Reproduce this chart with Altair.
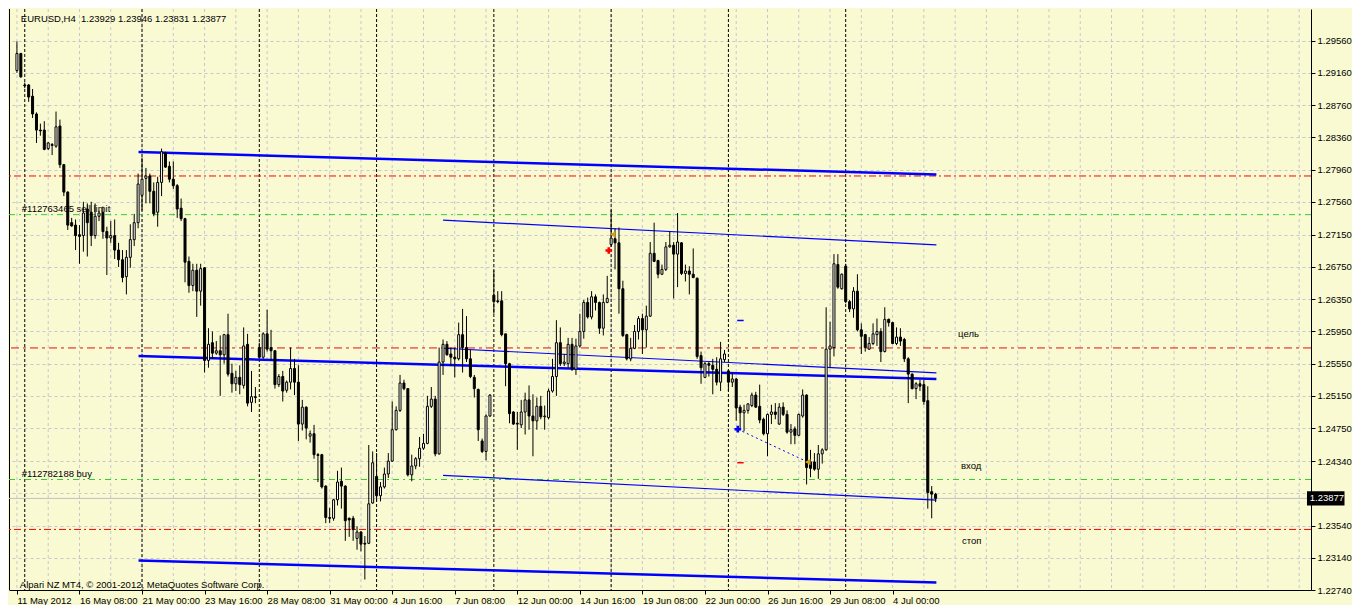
import altair as alt
import pandas as pd

# ---------------- data (EURUSD H4, bar index 0 = first visible bar) ----------------
OPEN = [
    1.2919, 1.2940, 1.2901, 1.2901, 1.2887, 1.2865, 1.2845, 1.2845, 1.2822, 1.2827,
    1.2825, 1.2850, 1.2802, 1.2768, 1.2730, 1.2727, 1.2715, 1.2714, 1.2747, 1.2743,
    1.2714, 1.2738, 1.2743, 1.2719, 1.2711, 1.2714, 1.2696, 1.2684, 1.2663, 1.2687,
    1.2709, 1.2730, 1.2764, 1.2785, 1.2788, 1.2769, 1.2743, 1.2780, 1.2817, 1.2800,
    1.2784, 1.2776, 1.2748, 1.2735, 1.2682, 1.2652, 1.2671, 1.2645, 1.2674, 1.2559,
    1.2581, 1.2568, 1.2571, 1.2566, 1.2591, 1.2543, 1.2530, 1.2538, 1.2528, 1.2579,
    1.2507, 1.2514, 1.2575, 1.2563, 1.2592, 1.2575, 1.2571, 1.2529, 1.2539, 1.2522,
    1.2532, 1.2549, 1.2532, 1.2480, 1.2501, 1.2465, 1.2468, 1.2442, 1.2442, 1.2403,
    1.2364, 1.2363, 1.2386, 1.2409, 1.2403, 1.2363, 1.2363, 1.2338, 1.2346, 1.2332,
    1.2332, 1.2382, 1.2415, 1.2391, 1.2402, 1.2418, 1.2434, 1.2473, 1.2497, 1.2531,
    1.2524, 1.2417, 1.2428, 1.2437, 1.2450, 1.2456, 1.2502, 1.2511, 1.2443, 1.2557,
    1.2579, 1.2567, 1.2563, 1.2561, 1.2591, 1.2575, 1.2561, 1.2538, 1.2523, 1.2459,
    1.2446, 1.2490, 1.2640, 1.2633, 1.2633, 1.2592, 1.2555, 1.2495, 1.2481, 1.2479,
    1.2495, 1.2510, 1.2490, 1.2484, 1.2502, 1.2489, 1.2488, 1.2521, 1.2539, 1.2581,
    1.2555, 1.2555, 1.2579, 1.2548, 1.2577, 1.2595, 1.2631, 1.2613, 1.2638, 1.2631,
    1.2599, 1.2631, 1.2703, 1.2710, 1.2705, 1.2648, 1.2591, 1.2561, 1.2574, 1.2595,
    1.2611, 1.2597, 1.2614, 1.2692, 1.2683, 1.2666, 1.2672, 1.2700, 1.2702, 1.2691,
    1.2705, 1.2667, 1.2670, 1.2666, 1.2661, 1.2565, 1.2538, 1.2555, 1.2553, 1.2548,
    1.2532, 1.2560, 1.2546, 1.2532, 1.2536, 1.2501, 1.2494, 1.2497, 1.2503, 1.2516,
    1.2502, 1.2486, 1.2468, 1.2492, 1.2495, 1.2480, 1.2501, 1.2492, 1.2470, 1.2474,
    1.2466, 1.2490, 1.2516, 1.2433, 1.2433, 1.2424, 1.2443, 1.2448, 1.2573, 1.2575,
    1.2678, 1.2648, 1.2676, 1.2632, 1.2623, 1.2645, 1.2597, 1.2591, 1.2573, 1.2580,
    1.2591, 1.2595, 1.2570, 1.2610, 1.2606, 1.2580, 1.2588, 1.2585, 1.2561, 1.2542,
    1.2524, 1.2530, 1.2529, 1.2509, 1.2396, 1.23929,
]
HIGH = [
    1.2955, 1.2941, 1.2904, 1.2902, 1.2896, 1.2867, 1.2853, 1.2856, 1.2830, 1.2829,
    1.2868, 1.2858, 1.2803, 1.2769, 1.2736, 1.2734, 1.2727, 1.2756, 1.2754, 1.2756,
    1.2754, 1.2745, 1.2750, 1.2725, 1.2732, 1.2734, 1.2705, 1.2696, 1.2696, 1.2728,
    1.2741, 1.2791, 1.2811, 1.2798, 1.2791, 1.2780, 1.2787, 1.2822, 1.2818, 1.2806,
    1.2806, 1.2778, 1.2760, 1.2736, 1.2688, 1.2679, 1.2679, 1.2679, 1.2675, 1.2599,
    1.2595, 1.2583, 1.2590, 1.2592, 1.2617, 1.2555, 1.2546, 1.2553, 1.2600, 1.2592,
    1.2546, 1.2526, 1.2581, 1.2594, 1.2622, 1.2597, 1.2572, 1.2542, 1.2546, 1.2534,
    1.2575, 1.2561, 1.2553, 1.2510, 1.2502, 1.2472, 1.2479, 1.2444, 1.2443, 1.2404,
    1.2376, 1.2387, 1.2422, 1.2426, 1.2404, 1.2364, 1.2366, 1.2353, 1.2347, 1.2341,
    1.2454, 1.2446, 1.2444, 1.2408, 1.2426, 1.2444, 1.2508, 1.2502, 1.2541, 1.2535,
    1.2524, 1.2442, 1.2439, 1.2464, 1.2468, 1.2515, 1.2526, 1.2515, 1.2575, 1.2585,
    1.2583, 1.2575, 1.2575, 1.2606, 1.2623, 1.2614, 1.2572, 1.2541, 1.2524, 1.2462,
    1.2492, 1.2517, 1.2671, 1.2645, 1.2645, 1.2592, 1.2556, 1.2496, 1.2495, 1.2510,
    1.2519, 1.2528, 1.2517, 1.2513, 1.2515, 1.2503, 1.2524, 1.2561, 1.2609, 1.2600,
    1.2567, 1.2587, 1.2587, 1.2586, 1.2617, 1.2634, 1.2637, 1.2645, 1.2641, 1.2632,
    1.2641, 1.2664, 1.2746, 1.2723, 1.2724, 1.2658, 1.2592, 1.2587, 1.2603, 1.2614,
    1.2617, 1.2627, 1.2706, 1.2730, 1.2684, 1.2678, 1.2706, 1.2719, 1.2706, 1.2742,
    1.2706, 1.2678, 1.2676, 1.2698, 1.2662, 1.2570, 1.2557, 1.2557, 1.2561, 1.2563,
    1.2582, 1.2572, 1.2548, 1.2544, 1.2537, 1.2504, 1.2504, 1.2506, 1.2519, 1.2520,
    1.2529, 1.2488, 1.2493, 1.2504, 1.2506, 1.2506, 1.2507, 1.2497, 1.2480, 1.2477,
    1.2493, 1.2523, 1.2517, 1.2448, 1.2444, 1.2454, 1.2450, 1.2625, 1.2607, 1.2691,
    1.2691, 1.2667, 1.2679, 1.2634, 1.2650, 1.2666, 1.2605, 1.2592, 1.2588, 1.2605,
    1.2611, 1.2599, 1.2625, 1.2611, 1.2607, 1.2600, 1.2599, 1.2587, 1.2563, 1.2543,
    1.2532, 1.2535, 1.2535, 1.2527, 1.2403, 1.23946,
]
LOW = [
    1.2916, 1.2910, 1.2897, 1.2880, 1.2860, 1.2829, 1.2838, 1.2820, 1.2820, 1.2814,
    1.2823, 1.2798, 1.2763, 1.2721, 1.2725, 1.2696, 1.2679, 1.2694, 1.2688, 1.2701,
    1.2710, 1.2732, 1.2710, 1.2665, 1.2705, 1.2685, 1.2675, 1.2656, 1.2641, 1.2674,
    1.2701, 1.2723, 1.2745, 1.2754, 1.2754, 1.2738, 1.2725, 1.2763, 1.2798, 1.2780,
    1.2772, 1.2736, 1.2732, 1.2656, 1.2643, 1.2645, 1.2613, 1.2627, 1.2544, 1.2550,
    1.2561, 1.2566, 1.2515, 1.2555, 1.2539, 1.2519, 1.2521, 1.2517, 1.2524, 1.2502,
    1.2495, 1.2506, 1.2561, 1.2561, 1.2570, 1.2559, 1.2524, 1.2526, 1.2508, 1.2519,
    1.2523, 1.2516, 1.2459, 1.2472, 1.2461, 1.2457, 1.2437, 1.2408, 1.2400, 1.2357,
    1.2357, 1.2360, 1.2379, 1.2375, 1.2335, 1.2340, 1.2335, 1.2324, 1.2322, 1.2287,
    1.2331, 1.2381, 1.2384, 1.2384, 1.2400, 1.2413, 1.2433, 1.2472, 1.2495, 1.2522,
    1.2415, 1.2409, 1.2424, 1.2427, 1.2448, 1.2455, 1.2500, 1.2440, 1.2442, 1.2541,
    1.2565, 1.2552, 1.2538, 1.2559, 1.2544, 1.2557, 1.2537, 1.2513, 1.2459, 1.2444,
    1.2435, 1.2489, 1.2617, 1.2630, 1.2589, 1.2527, 1.2481, 1.2479, 1.2448, 1.2475,
    1.2467, 1.2473, 1.2440, 1.2473, 1.2486, 1.2473, 1.2486, 1.2519, 1.2515, 1.2552,
    1.2552, 1.2550, 1.2546, 1.2541, 1.2575, 1.2586, 1.2611, 1.2610, 1.2621, 1.2592,
    1.2590, 1.2630, 1.2700, 1.2672, 1.2617, 1.2588, 1.2559, 1.2558, 1.2573, 1.2585,
    1.2567, 1.2575, 1.2613, 1.2681, 1.2661, 1.2665, 1.2670, 1.2699, 1.2636, 1.2650,
    1.2665, 1.2657, 1.2641, 1.2661, 1.2561, 1.2530, 1.2537, 1.2539, 1.2517, 1.2528,
    1.2521, 1.2557, 1.2521, 1.2526, 1.2484, 1.2475, 1.2471, 1.2493, 1.2501, 1.2500,
    1.2481, 1.2466, 1.2440, 1.2480, 1.2486, 1.2479, 1.2490, 1.2468, 1.2455, 1.2455,
    1.2465, 1.2488, 1.2405, 1.2414, 1.2422, 1.2412, 1.2431, 1.2447, 1.2550, 1.2564,
    1.2648, 1.2647, 1.2630, 1.2619, 1.2612, 1.2595, 1.2567, 1.2570, 1.2572, 1.2578,
    1.2577, 1.2557, 1.2569, 1.2601, 1.2579, 1.2578, 1.2577, 1.2557, 1.2506, 1.2523,
    1.2511, 1.2521, 1.2504, 1.2375, 1.2363, 1.23831,
]
CLOSE = [
    1.2940, 1.2911, 1.2900, 1.2886, 1.2865, 1.2845, 1.2844, 1.2821, 1.2829, 1.2826,
    1.2849, 1.2802, 1.2768, 1.2727, 1.2726, 1.2714, 1.2713, 1.2742, 1.2730, 1.2714,
    1.2738, 1.2742, 1.2719, 1.2711, 1.2714, 1.2696, 1.2684, 1.2662, 1.2687, 1.2709,
    1.2730, 1.2778, 1.2784, 1.2788, 1.2769, 1.2741, 1.2780, 1.2818, 1.2799, 1.2784,
    1.2776, 1.2747, 1.2735, 1.2681, 1.2652, 1.2671, 1.2645, 1.2673, 1.2559, 1.2579,
    1.2568, 1.2571, 1.2566, 1.2591, 1.2542, 1.2530, 1.2538, 1.2529, 1.2577, 1.2506,
    1.2514, 1.2513, 1.2563, 1.2592, 1.2573, 1.2571, 1.2529, 1.2539, 1.2521, 1.2532,
    1.2549, 1.2532, 1.2480, 1.2501, 1.2475, 1.2468, 1.2442, 1.2441, 1.2402, 1.2364,
    1.2363, 1.2386, 1.2408, 1.2403, 1.2360, 1.2361, 1.2349, 1.2346, 1.2331, 1.2331,
    1.2381, 1.2432, 1.2391, 1.2402, 1.2418, 1.2434, 1.2473, 1.2497, 1.2531, 1.2524,
    1.2417, 1.2428, 1.2437, 1.2450, 1.2456, 1.2502, 1.2511, 1.2443, 1.2557, 1.2579,
    1.2566, 1.2563, 1.2561, 1.2591, 1.2575, 1.2561, 1.2539, 1.2524, 1.2473, 1.2446,
    1.2490, 1.2516, 1.2632, 1.2632, 1.2591, 1.2555, 1.2493, 1.2480, 1.2480, 1.2495,
    1.2510, 1.2490, 1.2484, 1.2502, 1.2489, 1.2490, 1.2521, 1.2539, 1.2581, 1.2555,
    1.2557, 1.2579, 1.2548, 1.2577, 1.2595, 1.2631, 1.2613, 1.2638, 1.2631, 1.2599,
    1.2631, 1.2636, 1.2711, 1.2705, 1.2648, 1.2590, 1.2561, 1.2574, 1.2595, 1.2611,
    1.2597, 1.2614, 1.2692, 1.2682, 1.2666, 1.2672, 1.2700, 1.2702, 1.2691, 1.2706,
    1.2667, 1.2670, 1.2666, 1.2662, 1.2564, 1.2550, 1.2555, 1.2553, 1.2548, 1.2532,
    1.2561, 1.2567, 1.2532, 1.2536, 1.2500, 1.2494, 1.2497, 1.2505, 1.2516, 1.2501,
    1.2485, 1.2468, 1.2492, 1.2495, 1.2492, 1.2501, 1.2492, 1.2470, 1.2473, 1.2466,
    1.2492, 1.2516, 1.2426, 1.2425, 1.2424, 1.2443, 1.2448, 1.2573, 1.2577, 1.2679,
    1.2650, 1.2666, 1.2632, 1.2623, 1.2645, 1.2597, 1.2589, 1.2575, 1.2580, 1.2592,
    1.2595, 1.2570, 1.2610, 1.2606, 1.2580, 1.2588, 1.2583, 1.2561, 1.2542, 1.2524,
    1.2530, 1.2527, 1.2508, 1.2395, 1.2393, 1.23877,
]

X_TICK_BARS = [0, 16, 32, 48, 64, 80, 96, 112, 128, 144, 160, 176, 192, 208, 224]
X_TICK_TEXT = ["11 May 2012", "16 May 08:00", "21 May 00:00", "23 May 16:00",
               "28 May 08:00", "31 May 00:00", "4 Jun 16:00", "7 Jun 08:00",
               "12 Jun 00:00", "14 Jun 16:00", "19 Jun 08:00", "22 Jun 00:00",
               "26 Jun 16:00", "29 Jun 08:00", "4 Jul 00:00"]
Y_TICKS = [1.2956, 1.2916, 1.2876, 1.2836, 1.2796, 1.2756, 1.2715, 1.2675, 1.2635,
           1.2595, 1.2555, 1.2515, 1.2475, 1.2434, 1.2394, 1.2354, 1.2314, 1.2274]
HIDDEN_Y_LABEL = 1.2394   # covered by the current-price box in the reference
SEPARATOR_BARS = [2, 32, 62, 92, 122, 152, 182, 212]
GRID_BARS = list(range(0, 329, 8))

# channel lines (bar index, price)
THICK_X1 = [31.1, 31.1, 31.1]
THICK_P1 = [1.28177, 1.25644, 1.23106]
THICK_X2 = [235.2, 235.2, 235.2]
THICK_P2 = [1.27898, 1.25360, 1.22832]
THIN_X1 = [109.0, 109.0, 109.0]
THIN_P1 = [1.27331, 1.25741, 1.24164]
THIN_X2 = [235.2, 235.2, 235.2]
THIN_P2 = [1.27025, 1.25436, 1.23855]

# horizontal levels
RED_DASHDOT_LEVELS = [1.2788, 1.23492]
GREEN_LEVELS = [1.2740, 1.24112]
TARGET_LEVEL = [1.25745]
BID = 1.23877

# trade marks
TRADE_X = [184.4, 202.3]
TRADE_P = [1.24736, 1.24329]
TP_MARK = [184.25, 185.9, 1.26086]
SL_MARK = [184.25, 185.9, 1.24320]
RED_CROSS = [151.4, 1.26955]
ORANGE_ARROWS_X = [152.4, 202.3]
ORANGE_ARROWS_P = [1.27154, 1.24329]

NOTE_TEXT = ["#112763465 sell limit", "#112782188 buy", "цель", "вход", "стоп"]
NOTE_X = [1.25, 1.25, 240.75, 241.5, 241.75]
NOTE_P = [1.27468, 1.24180, 1.25922, 1.24278, 1.23352]

TITLE = "EURUSD,H4\u00a0 1.23929 1.23946 1.23831 1.23877"
COPYRIGHT = "Alpari NZ MT4, \u00a9 2001-2012, MetaQuotes Software Corp."

# ---------------- styling ----------------
FONT = "Liberation Sans"
BG = "#FAFAD2"
GRIDC = "#C6C6D2"
FS = 9.5

XS = alt.Scale(domain=[-0.75, 329.75], nice=False, zero=False)
YS = alt.Scale(domain=[1.2274, 1.29953], nice=False, zero=False)

label_expr = "[" + ",".join("'" + t + "'" for t in X_TICK_TEXT) + "][round(datum.value / 16)]"
y_label_expr = f"abs(datum.value - {HIDDEN_Y_LABEL}) < 0.00005 ? '' : format(datum.value, '.5f')"

X_AXIS = alt.Axis(values=X_TICK_BARS, labelExpr=label_expr, labelAlign="left",
                  labelPadding=1, tickSize=4, tickColor="black", labelColor="black",
                  labelFont=FONT, labelFontSize=FS, grid=False, domain=True,
                  domainColor="black", title=None, labelOverlap=False, labelFlush=False)
Y_AXIS = alt.Axis(orient="right", values=Y_TICKS, labelExpr=y_label_expr, tickSize=4,
                  tickColor="black", labelColor="black", labelFont=FONT,
                  labelFontSize=FS, grid=True, gridColor=GRIDC, gridDash=[3, 3],
                  domain=True, domainColor="black", title=None,
                  labelOverlap=False, labelPadding=2, labelFlush=False)


def ex(f):
    return alt.X(f"{f}:Q", scale=XS, axis=X_AXIS)


def ey(f):
    return alt.Y(f"{f}:Q", scale=YS, axis=Y_AXIS)


# ---------------- tables ----------------
df = pd.DataFrame({"i": list(range(len(OPEN))), "o": OPEN, "h": HIGH, "l": LOW, "c": CLOSE})
df["h"] = df[["h", "o", "c"]].max(axis=1)
df["l"] = df[["l", "o", "c"]].min(axis=1)
df["top"] = df[["o", "c"]].max(axis=1)
df["bot"] = df[["o", "c"]].min(axis=1)
df["fill"] = ["white" if c >= o else "black" for o, c in zip(df["o"], df["c"])]

grid_df = pd.DataFrame({"i": GRID_BARS})
sep_df = pd.DataFrame({"i": SEPARATOR_BARS})
thick_df = pd.DataFrame({"x1": THICK_X1, "p1": THICK_P1, "x2": THICK_X2, "p2": THICK_P2})
thin_df = pd.DataFrame({"x1": THIN_X1, "p1": THIN_P1, "x2": THIN_X2, "p2": THIN_P2})
notes_df = pd.DataFrame({"x": NOTE_X, "p": NOTE_P, "t": NOTE_TEXT})

layers = []

layers.append(alt.Chart(grid_df).mark_rule(color=GRIDC, strokeDash=[3, 3], strokeWidth=1)
              .encode(x=ex("i")))
layers.append(alt.Chart(sep_df).mark_rule(color="black", strokeDash=[3, 2], strokeWidth=1)
              .encode(x=ex("i")))
layers.append(alt.Chart(pd.DataFrame({"p": [0]})).mark_rule(color="black", strokeWidth=1)
              .encode(x=alt.value(0.5)))

layers.append(alt.Chart(pd.DataFrame({"p": RED_DASHDOT_LEVELS}))
              .mark_rule(color="#FF0000", strokeDash=[7, 3, 2, 3], strokeWidth=1)
              .encode(y=ey("p")))
layers.append(alt.Chart(pd.DataFrame({"p": GREEN_LEVELS}))
              .mark_rule(color="#32CD32", strokeDash=[6, 4, 2, 4], strokeWidth=1)
              .encode(y=ey("p")))
layers.append(alt.Chart(pd.DataFrame({"p": TARGET_LEVEL}))
              .mark_rule(color="#E01010", strokeDash=[8, 4, 3, 4], strokeWidth=1)
              .encode(y=ey("p")))
layers.append(alt.Chart(pd.DataFrame({"p": [BID]}))
              .mark_rule(color="#C0C0C8", strokeWidth=1)
              .encode(y=ey("p")))

layers.append(alt.Chart(thick_df).mark_rule(color="#0000FF", strokeWidth=2.5)
              .encode(x=ex("x1"), x2="x2:Q", y=ey("p1"), y2="p2:Q"))
layers.append(alt.Chart(thin_df).mark_rule(color="#0000FF", strokeWidth=1.2)
              .encode(x=ex("x1"), x2="x2:Q", y=ey("p1"), y2="p2:Q"))

trade_df = pd.DataFrame({"x1": [TRADE_X[0]], "p1": [TRADE_P[0]], "x2": [TRADE_X[1]], "p2": [TRADE_P[1]]})
layers.append(alt.Chart(trade_df).mark_rule(color="#0000FF", strokeDash=[2, 3], strokeWidth=1)
              .encode(x=ex("x1"), x2="x2:Q", y=ey("p1"), y2="p2:Q"))
mk_df = pd.DataFrame({"x1": [TP_MARK[0], SL_MARK[0]], "x2": [TP_MARK[1], SL_MARK[1]],
                      "p": [TP_MARK[2], SL_MARK[2]], "col": ["#0000FF", "#FF0000"]})
layers.append(alt.Chart(mk_df).mark_rule(strokeWidth=1.5)
              .encode(x=ex("x1"), x2="x2:Q", y=ey("p"),
                      color=alt.Color("col:N", scale=None)))

# candles
layers.append(alt.Chart(df).mark_rule(color="black", strokeWidth=1)
              .encode(x=ex("i"), y=ey("l"), y2="h:Q"))
layers.append(alt.Chart(df).mark_bar(size=2, stroke="black", strokeWidth=1)
              .encode(x=ex("i"), y=ey("bot"), y2="top:Q",
                      fill=alt.Fill("fill:N", scale=None)))

# trade markers
layers.append(alt.Chart(pd.DataFrame({"x": [TRADE_X[0]], "p": [TRADE_P[0]]}))
              .mark_point(shape="cross", filled=True, size=45, color="#0000FF", opacity=1)
              .encode(x=ex("x"), y=ey("p")))
layers.append(alt.Chart(pd.DataFrame({"x": [RED_CROSS[0]], "p": [RED_CROSS[1]]}))
              .mark_point(shape="cross", filled=True, size=45, color="#FF0000", opacity=1)
              .encode(x=ex("x"), y=ey("p")))
layers.append(alt.Chart(pd.DataFrame({"x": ORANGE_ARROWS_X, "p": ORANGE_ARROWS_P}))
              .mark_point(shape="triangle-left", filled=True, size=40, color="#D4A017", opacity=1)
              .encode(x=ex("x"), y=ey("p")))

# texts
layers.append(alt.Chart(notes_df).mark_text(align="left", baseline="middle", font=FONT,
                                            fontSize=FS, color="black")
              .encode(x=ex("x"), y=ey("p"), text="t:N"))
layers.append(alt.Chart(pd.DataFrame({"x": [1.0, 0.75], "p": [1.29831, 1.22804],
                                      "t": [TITLE, COPYRIGHT]}))
              .mark_text(align="left", baseline="middle", font=FONT, fontSize=FS, color="black")
              .encode(x=ex("x"), y=ey("p"), text="t:N"))

# current price box on the price scale
box_df = pd.DataFrame({"x1": [330.0], "x2": [339.6], "p1": [BID - 0.00088], "p2": [BID + 0.00088],
                       "tx": [330.7], "t": ["1.23877"], "p": [BID]})
layers.append(alt.Chart(box_df).mark_rect(color="black")
              .encode(x=ex("x1"), x2="x2:Q", y=ey("p1"), y2="p2:Q"))
layers.append(alt.Chart(box_df).mark_text(align="left", baseline="middle", font=FONT,
                                          fontSize=FS, color="white")
              .encode(x=ex("tx"), y=ey("p"), text="t:N"))

chart = (
    alt.layer(*layers)
    .properties(width=1344, height=597, padding=0,
                autosize=alt.AutoSizeParams(type="fit", contains="padding"))
    .configure(background=BG, font=FONT)
    .configure_view(fill=BG, strokeWidth=0)
)

chart.save("out.html", embed_options={"renderer": "svg", "actions": False})
